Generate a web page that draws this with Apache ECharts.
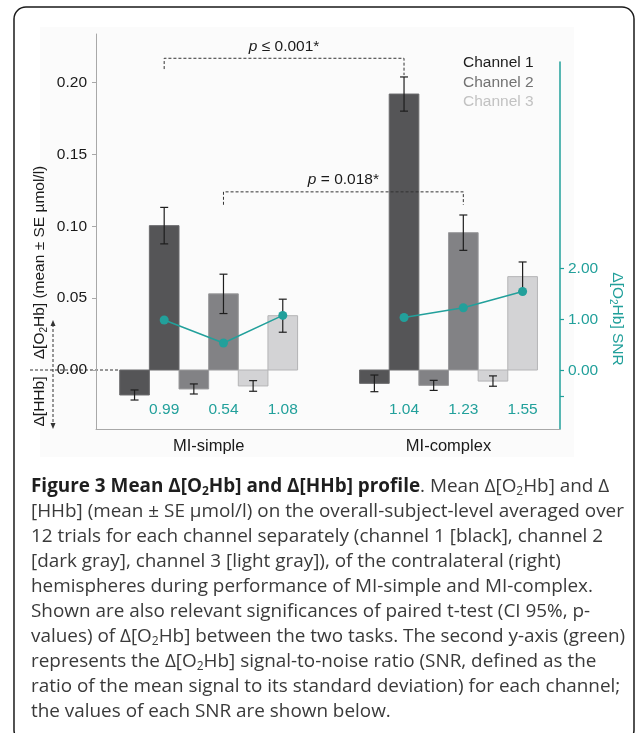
<!DOCTYPE html>
<html>
<head>
<meta charset="utf-8">
<script src="https://cdn.jsdelivr.net/npm/echarts@6/dist/echarts.min.js"></script>
<style>
  html, body { margin: 0; padding: 0; background: #ffffff; }
  #chart { width: 636px; height: 733px; }
</style>
</head>
<body>
<div id="chart"></div>
<script>
// ---- data -------------------------------------------------------------
const groups = ['MI-simple', 'MI-complex'];
const channels = ['Channel 1', 'Channel 2', 'Channel 3'];
// mean ± SE (µmol/l), indexed [channel][group]
const hhbMean  = [[-0.0174, -0.0093], [-0.0132, -0.0107], [-0.0111, -0.0077]];
const hhbSE    = [[0.0035, 0.0058], [0.0035, 0.0035], [0.0037, 0.0036]];
const o2hbMean = [[0.1005, 0.1921], [0.0530, 0.0956], [0.0378, 0.0650]];
const o2hbSE   = [[0.0127, 0.0119], [0.0137, 0.0123], [0.0115, 0.0102]];
// Δ[O2Hb] signal-to-noise ratio, [channel][group]
const snr = [[0.99, 1.04], [0.54, 1.23], [1.08, 1.55]];
// axis ticks
const leftTicks = [0, 0.05, 0.10, 0.15, 0.20];
const rightTicks = [-0.5, 0, 1, 2];
const rightLabels = [0, 1, 2];
// paired t-tests of Δ[O2Hb] between the tasks
const sigChannel = [0, 1];
const sigText = ['≤ 0.001*', '= 0.018*'];
const sigTop = [0.217, 0.124];
const sigFootSimple = [0.2095, 0.115];
const sigFootComplex = [0.2053, 0.115];

// ---- layout & style ---------------------------------------------------
const FONT = '"Liberation Sans", Arial, Helvetica, sans-serif';
const CAP_FONT = '"Open Sans", "Noto Sans", sans-serif';
const TEAL = '#22a09b';
const AXIS_GRAY = '#a8a8a8';
const fills = ['#555557', '#828285', '#d3d3d5'];
const strokes = ['#6b6b6d', '#9a9a9c', '#b4b4b6'];
const legendColors = ['#1c1c1c', '#727272', '#c2c2c2'];
const BAR = 0.1236;             // bar width in x units (group centres at 0 and 1)
const X_MIN = -0.4697, X_MAX = 1.4649;
const Y_MIN = -0.04107, Y_MAX = 0.2339;
const R_MIN = -1.147, R_MAX = 6.049;

// t = 0 : Δ[HHb] bar, t = 1 : Δ[O2Hb] bar
function barX(g, c, t) { return g + (2 * c + t - 2.5) * BAR; }

function barRenderer(c) {
  return function (params, api) {
    const x = api.value(0), v = api.value(1), se = api.value(2);
    const base = api.coord([x, 0]);
    const end = api.coord([x, v]);
    const w = api.size([BAR, 0])[0];
    const hi = api.coord([x, v + se]);
    const lo = api.coord([x, v - se]);
    const cap = 4;
    const err = { stroke: '#1e1e1e', lineWidth: 1.2 };
    return {
      type: 'group',
      children: [
        { type: 'rect',
          shape: { x: base[0] - w / 2, y: Math.min(base[1], end[1]), width: w, height: Math.abs(end[1] - base[1]) },
          style: { fill: fills[c], stroke: strokes[c], lineWidth: 1 } },
        { type: 'line', shape: { x1: hi[0], y1: hi[1], x2: lo[0], y2: lo[1] }, style: err },
        { type: 'line', shape: { x1: hi[0] - cap, y1: hi[1], x2: hi[0] + cap, y2: hi[1] }, style: err },
        { type: 'line', shape: { x1: lo[0] - cap, y1: lo[1], x2: lo[0] + cap, y2: lo[1] }, style: err }
      ]
    };
  };
}

const barSeries = channels.map(function (name, c) {
  const data = [];
  groups.forEach(function (_, g) {
    data.push([barX(g, c, 0), hhbMean[c][g], hhbSE[c][g]]);
    data.push([barX(g, c, 1), o2hbMean[c][g], o2hbSE[c][g]]);
  });
  return {
    name: name, type: 'custom', xAxisIndex: 0, yAxisIndex: 0,
    dimensions: ['x', 'value', 'se'], encode: { x: 0, y: 1 },
    itemStyle: { color: fills[c] },
    renderItem: barRenderer(c), data: data, z: 2
  };
});

const sigSeries = {
  name: 'significance', type: 'custom', xAxisIndex: 0, yAxisIndex: 0, silent: true,
  encode: { x: [0, 1], y: [2, 3, 4] },
  data: sigChannel.map(function (c, i) {
    return [barX(0, c, 1), barX(1, c, 1), sigTop[i], sigFootSimple[i], sigFootComplex[i], i];
  }),
  renderItem: function (params, api) {
    const x1 = api.value(0), x2 = api.value(1), top = api.value(2);
    const i = api.value(5);
    const a = api.coord([x1, api.value(3)]);
    const b = api.coord([x1, top]);
    const c2 = api.coord([x2, top]);
    const d = api.coord([x2, api.value(4)]);
    return {
      type: 'group',
      children: [
        { type: 'polyline', shape: { points: [a, b, c2, d] },
          style: { fill: 'none', stroke: '#333333', lineWidth: 1, lineDash: [3, 2] } },
        { type: 'text', x: (b[0] + c2[0]) / 2, y: b[1] - 12,
          style: {
            text: '{i|p} ' + sigText[i],
            fill: '#1a1a1a', fontSize: 15.5, fontFamily: FONT,
            align: 'center', verticalAlign: 'middle',
            rich: { i: { fontStyle: 'italic', fontSize: 15.5, fontFamily: FONT, fill: '#1a1a1a' } }
          } }
      ]
    };
  },
  z: 3
};

const snrLines = groups.map(function (g, gi) {
  return {
    name: 'SNR ' + g, type: 'line', xAxisIndex: 1, yAxisIndex: 1,
    data: channels.map(function (_, c) { return [barX(gi, c, 1), snr[c][gi]]; }),
    symbol: 'circle', symbolSize: 9, showSymbol: true,
    lineStyle: { color: TEAL, width: 1.5 },
    itemStyle: { color: TEAL },
    silent: true, z: 4
  };
});

const snrLabelData = [];
groups.forEach(function (_, g) {
  channels.forEach(function (__, c) { snrLabelData.push([barX(g, c, 1), snr[c][g]]); });
});
const snrLabels = {
  name: 'SNR values', type: 'custom', xAxisIndex: 1, yAxisIndex: 1, silent: true,
  encode: { x: 0, y: 1 },
  data: snrLabelData,
  renderItem: function (params, api) {
    const p = api.coord([api.value(0), api.value(1)]);
    const cs = params.coordSys;
    return {
      type: 'text', x: p[0], y: cs.y + cs.height - 19,
      style: { text: api.value(1).toFixed(2), fill: TEAL, fontSize: 15.5, fontFamily: FONT,
               align: 'center', verticalAlign: 'middle' }
    };
  },
  z: 4
};

const chart = echarts.init(document.getElementById('chart'), null, { renderer: 'canvas' });

chart.setOption({
  animation: false,
  backgroundColor: '#ffffff',
  textStyle: { fontFamily: FONT },
  grid: [
    { left: 96, right: 76, top: 34, bottom: 304 },
    { left: 96, right: 76, top: 62, bottom: 304 }
  ],
  legend: {
    orient: 'vertical', left: 453, top: 50,
    itemWidth: 0, itemHeight: 15, itemGap: 3.5, icon: 'rect',
    selectedMode: false,
    itemStyle: { opacity: 0 },
    textStyle: { fontSize: 15.5, fontFamily: FONT },
    data: channels.map(function (n, i) { return { name: n, textStyle: { color: legendColors[i] } }; })
  },
  xAxis: [
    { gridIndex: 0, type: 'value', min: X_MIN, max: X_MAX,
      axisLine: { show: true, onZero: false, lineStyle: { color: AXIS_GRAY, width: 1 } },
      axisTick: { show: false }, splitLine: { show: false },
      axisLabel: { customValues: [0, 1], formatter: function (v) { return groups[Math.round(v)]; },
                   color: '#1a1a1a', fontSize: 16.5, fontFamily: FONT, margin: 9 } },
    { gridIndex: 1, type: 'value', min: X_MIN, max: X_MAX, show: false }
  ],
  yAxis: [
    { gridIndex: 0, type: 'value', min: Y_MIN, max: Y_MAX,
      axisLine: { show: true, onZero: false, lineStyle: { color: AXIS_GRAY, width: 1 } },
      axisTick: { show: true, customValues: leftTicks, length: 4, lineStyle: { color: AXIS_GRAY } },
      axisLabel: { customValues: leftTicks, formatter: function (v) { return v.toFixed(2); },
                   color: '#1a1a1a', fontSize: 15.5, fontFamily: FONT, margin: 9 },
      splitLine: { show: false } },
    { gridIndex: 1, type: 'value', position: 'right', min: R_MIN, max: R_MAX,
      axisLine: { show: true, onZero: false, lineStyle: { color: TEAL, width: 1.5 } },
      axisTick: { show: true, customValues: rightTicks, length: 4, lineStyle: { color: TEAL, width: 1.2 } },
      axisLabel: { customValues: rightLabels, formatter: function (v) { return v.toFixed(2); },
                   color: TEAL, fontSize: 15.5, fontFamily: FONT, margin: 8 },
      splitLine: { show: false } }
  ],
  series: barSeries.concat([sigSeries]).concat(snrLines).concat([snrLabels])
});

// ---- decorations: frame, axis titles, zero guide, caption --------------
const y0 = chart.convertToPixel({ yAxisIndex: 0 }, 0);
const firstBarLeft = chart.convertToPixel({ xAxisIndex: 0 }, barX(0, 0, 0) - BAR / 2);
const subStyle = { fontSize: 10, lineHeight: 12, verticalAlign: 'bottom', fontFamily: FONT, fill: '#1a1a1a' };

const captionLines = [
  '{b|Figure 3 Mean Δ[O}{bs|2}{b|Hb] and Δ[HHb] profile}. Mean Δ[O{s|2}Hb] and Δ',
  '[HHb] (mean ± SE μmol/l) on the overall-subject-level averaged over',
  '12 trials for each channel separately (channel 1 [black], channel 2',
  '[dark gray], channel 3 [light gray]), of the contralateral (right)',
  'hemispheres during performance of MI-simple and MI-complex.',
  'Shown are also relevant significances of paired t-test (CI 95%, p-',
  'values) of Δ[O{s|2}Hb] between the two tasks. The second y-axis (green)',
  'represents the Δ[O{s|2}Hb] signal-to-noise ratio (SNR, defined as the',
  'ratio of the mean signal to its standard deviation) for each channel;',
  'the values of each SNR are shown below.'
];
const CAP_SIZE = 18.9;
const capRich = {
  b:  { fontWeight: 'bold', fontSize: CAP_SIZE, lineHeight: 22, fontFamily: CAP_FONT, fill: '#1e1e1e' },
  bs: { fontWeight: 'bold', fontSize: 12, lineHeight: 13, verticalAlign: 'bottom', fontFamily: CAP_FONT, fill: '#1e1e1e' },
  s:  { fontSize: 12, lineHeight: 13, verticalAlign: 'bottom', fontFamily: CAP_FONT, fill: '#3a3a3a' }
};

const graphics = [
  { type: 'rect', z: -10, shape: { x: 40, y: 27, width: 534, height: 430 },
    style: { fill: '#fbfbfb' }, silent: true },
  { type: 'rect', z: 100, shape: { x: 14, y: 7, width: 620, height: 735, r: 12 },
    style: { fill: 'none', stroke: '#1a1a1a', lineWidth: 1.5 }, silent: true },
  // left axis titles
  { type: 'text', x: 40, y: 262.5, rotation: Math.PI / 2,
    style: { text: 'Δ[O{s|2}Hb] (mean ± SE µmol/l)', fontSize: 15.5, lineHeight: 18, fontFamily: FONT,
             fill: '#1a1a1a', align: 'center', verticalAlign: 'middle', rich: { s: subStyle } } },
  { type: 'text', x: 40, y: y0 + 31.5, rotation: Math.PI / 2,
    style: { text: 'Δ[HHb]', fontSize: 15.5, fontFamily: FONT, fill: '#1a1a1a',
             align: 'center', verticalAlign: 'middle' } },
  // right axis title
  { type: 'text', x: 617, y: 319, rotation: -Math.PI / 2,
    style: { text: 'Δ[O{s|2}Hb] SNR', fontSize: 15.5, lineHeight: 18, fontFamily: FONT,
             fill: TEAL, align: 'center', verticalAlign: 'middle',
             rich: { s: Object.assign({}, subStyle, { fill: TEAL }) } } },
  // zero guide
  { type: 'line', z: -1, shape: { x1: 30, y1: y0, x2: firstBarLeft, y2: y0 },
    style: { stroke: '#333333', lineWidth: 1, lineDash: [3, 2] } },
  // up/down arrow separating Δ[O2Hb] and Δ[HHb]
  { type: 'line', shape: { x1: 53, y1: y0 - 46, x2: 53, y2: y0 + 55 },
    style: { stroke: '#333333', lineWidth: 1, lineDash: [3, 2] } },
  { type: 'polygon', shape: { points: [[53, y0 - 50], [50.5, y0 - 44], [55.5, y0 - 44]] },
    style: { fill: '#333333' } },
  { type: 'polygon', shape: { points: [[53, y0 + 59], [50.5, y0 + 53], [55.5, y0 + 53]] },
    style: { fill: '#333333' } }
];

captionLines.forEach(function (line, i) {
  graphics.push({
    type: 'text', x: 31, y: 487 + 25 * i,
    style: { text: line, fontSize: CAP_SIZE, lineHeight: 22, fontFamily: CAP_FONT, fill: '#3a3a3a',
             align: 'left', verticalAlign: 'middle', rich: capRich }
  });
});

chart.setOption({ graphic: graphics });
</script>
</body>
</html>
